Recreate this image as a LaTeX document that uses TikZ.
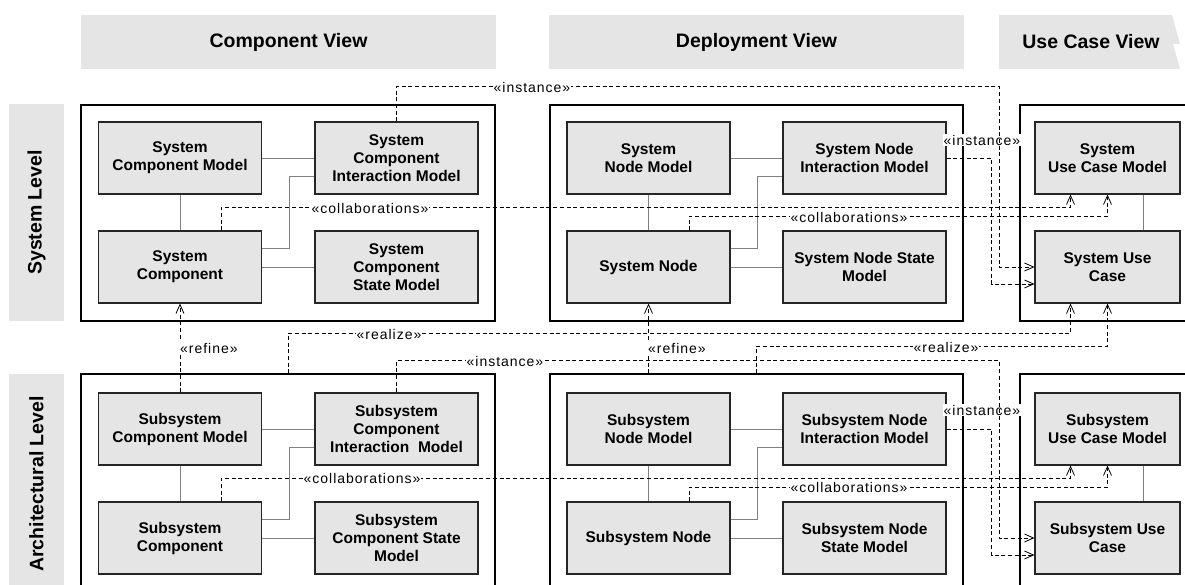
\documentclass[tikz,border=0pt]{standalone}
\usepackage{fontspec}
\setsansfont{Liberation Sans}
\newfontfamily\lblfont[LetterSpace=7]{Liberation Sans}
\usetikzlibrary{arrows.meta}

\begin{document}
\begin{tikzpicture}[
  x=1pt, y=-1pt,
  font=\sffamily,
  every node/.style={align=center},
  box/.style={rectangle, draw=black!85, line width=1.1pt, fill=black!10,
              minimum width=163pt, minimum height=72pt, inner sep=2pt,
              font=\sffamily\bfseries\fontsize{15.5}{18}\selectfont},
  ucbox/.style={box, minimum width=145pt},
  pkg/.style={rectangle, draw=black, line width=1.3pt, fill=white, inner sep=0pt},
  hdrtxt/.style={font=\sffamily\bfseries\fontsize{19.5}{23}\selectfont},
  hdr/.style={hdrtxt, rectangle, fill=black!10, minimum height=54pt, inner sep=0pt},
  lvl/.style={hdr, rotate=90, minimum height=55pt},
  lbl/.style={fill=white, inner sep=1pt, font=\lblfont\fontsize{14}{16}\selectfont},
  dep/.style={draw=black, line width=0.8pt, dash pattern=on 4pt off 2.7pt,
              -{Straight Barb[length=9pt, width=8pt]}},
  link/.style={draw=black!50, line width=0.9pt},
]
\useasboundingbox (0,0) rectangle (1185,585);

% ---------------------------------------------------------------- headers
\node[hdr, minimum width=415pt] (hdrComp) at (288.5,42) {Component View};
\node[hdr, minimum width=415pt] (hdrDepl) at (756.5,42) {Deployment View};
\fill[black!10] (999,15) -- (1172,15) -- (1180,44) -- (1173,44) -- (1180,69) -- (999,69) -- cycle;
\node[hdrtxt] (hdrUse) at (1091,42) {Use Case View};

\node[lvl, minimum width=217pt] (lvlSys)  at (36.5,212.5) {System Level};
\node[lvl, minimum width=220pt] (lvlArch) at (36.5,484)   {Architectural Level};

% ---------------------------------------------------------------- packages
\node[pkg, minimum width=414pt, minimum height=216pt] (pkgCompSys)  at (288,213)    {};
\node[pkg, minimum width=413pt, minimum height=216pt] (pkgDeplSys)  at (756.5,213)  {};
\node[pkg, minimum width=180pt, minimum height=216pt] (pkgUseSys)   at (1110,213)   {};
\node[pkg, minimum width=414pt, minimum height=226pt] (pkgCompArch) at (288,487)    {};
\node[pkg, minimum width=413pt, minimum height=226pt] (pkgDeplArch) at (756.5,487)  {};
\node[pkg, minimum width=180pt, minimum height=226pt] (pkgUseArch)  at (1110,487)   {};

% ---------------------------------------------------------------- system level
\node[box]   (scm)  at (180,158)    {System\\Component Model};
\node[box]   (scim) at (396.5,158)  {System\\Component\\Interaction Model};
\node[box]   (sc)   at (180,267)    {System\\Component};
\node[box]   (scsm) at (396.5,267)  {System\\Component\\State Model};
\node[box]   (snm)  at (648.5,158)  {System\\Node Model};
\node[box]   (snim) at (864.5,158)  {System Node\\Interaction Model};
\node[box]   (sn)   at (648.5,267)  {System Node};
\node[box]   (snsm) at (864.5,267)  {System Node State\\Model};
\node[ucbox] (sucm) at (1107.5,158) {System\\Use Case Model};
\node[ucbox] (suc)  at (1107.5,267) {System Use\\Case};

% ---------------------------------------------------------------- architectural level
\node[box]   (sscm)  at (180,429)    {Subsystem\\Component Model};
\node[box]   (sscim) at (396.5,429)  {Subsystem\\Component\\Interaction~ Model};
\node[box]   (ssc)   at (180,538)    {Subsystem\\Component};
\node[box]   (sscsm) at (396.5,538)  {Subsystem\\Component State\\Model};
\node[box]   (ssnm)  at (648.5,429)  {Subsystem\\Node Model};
\node[box]   (ssnim) at (864.5,429)  {Subsystem Node\\Interaction Model};
\node[box]   (ssn)   at (648.5,538)  {Subsystem Node};
\node[box]   (ssnsm) at (864.5,538)  {Subsystem Node\\State Model};
\node[ucbox] (ssucm) at (1107.5,429) {Subsystem\\Use Case Model};
\node[ucbox] (ssuc)  at (1107.5,538) {Subsystem Use\\Case};

% ---------------------------------------------------------------- plain links
\draw[link] (scm) -- (scim);
\draw[link] (scm) -- (sc);
\draw[link] ([yshift=19pt]sc.east) -- ++(27,0) |- ([yshift=-18pt]scim.west);
\draw[link] (sc) -- (scsm);
\draw[link] (snm) -- (snim);
\draw[link] (snm) -- (sn);
\draw[link] ([yshift=19pt]sn.east) -- ++(27,0) |- ([yshift=-18pt]snim.west);
\draw[link] (sn) -- (snsm);
\draw[link] ([xshift=35.5pt]sucm.south) -- ([xshift=35.5pt]suc.north);

\draw[link] (sscm) -- (sscim);
\draw[link] (sscm) -- (ssc);
\draw[link] ([yshift=19pt]ssc.east) -- ++(27,0) |- ([yshift=-18pt]sscim.west);
\draw[link] (ssc) -- (sscsm);
\draw[link] (ssnm) -- (ssnim);
\draw[link] (ssnm) -- (ssn);
\draw[link] ([yshift=19pt]ssn.east) -- ++(27,0) |- ([yshift=-18pt]ssnim.west);
\draw[link] (ssn) -- (ssnsm);
\draw[link] ([xshift=35.5pt]ssucm.south) -- ([xshift=35.5pt]ssuc.north);

% ---------------------------------------------------------------- dependencies, system level
\draw[dep] (snim.east) -- ++(45,0) |- ([yshift=-17pt]suc.west);
\node[lbl] (instSysN) at (982,140) {«instance»};
\draw[dep] (scim.north) -- ++(0,-35) -- ++(602.5,0) |- (suc.west);
\node[lbl] (instSysC) at (532,87) {«instance»};

\draw[dep] ([xshift=41pt]sc.north) -- ++(0,-23) -| ([xshift=-37pt]sucm.south);
\node[lbl] (collSysC) at (370,208) {«collaborations»};
\draw[dep] ([xshift=40.5pt]sn.north) -- ++(0,-14) -| (sucm.south);
\node[lbl] (collSysN) at (849,217) {«collaborations»};

% ---------------------------------------------------------------- refine / realize
\draw[dep] (sscm) -- (sc);
\node[lbl, anchor=west] (refC) at (179,348) {«refine»};
\draw[dep] (sn.south |- pkgDeplArch.north) -- (sn.south);
\node[lbl, anchor=west] (refN) at (647,348) {«refine»};
\draw[dep] (pkgCompArch.north) -- ++(0,-40) -| ([xshift=-37pt]suc.south);
\node[lbl] (realC) at (389,334) {«realize»};
\draw[dep] (pkgDeplArch.north) -- ++(0,-27) -| (suc.south);
\node[lbl] (realN) at (946,347) {«realize»};

% ---------------------------------------------------------------- dependencies, architectural level
\draw[dep] (ssnim.east) -- ++(45,0) |- ([yshift=-17pt]ssuc.west);
\node[lbl] (instArchN) at (982,410) {«instance»};
\draw[dep] (sscim.north) -- ++(0,-32) -- ++(602.5,0) |- (ssuc.west);
\node[lbl] (instArchC) at (505,361) {«instance»};

\draw[dep] ([xshift=41pt]ssc.north) -- ++(0,-23) -| ([xshift=-37pt]ssucm.south);
\node[lbl] (collArchC) at (362,478) {«collaborations»};
\draw[dep] ([xshift=40.5pt]ssn.north) -- ++(0,-14) -| (ssucm.south);
\node[lbl] (collArchN) at (849,487) {«collaborations»};

\end{tikzpicture}
\end{document}
